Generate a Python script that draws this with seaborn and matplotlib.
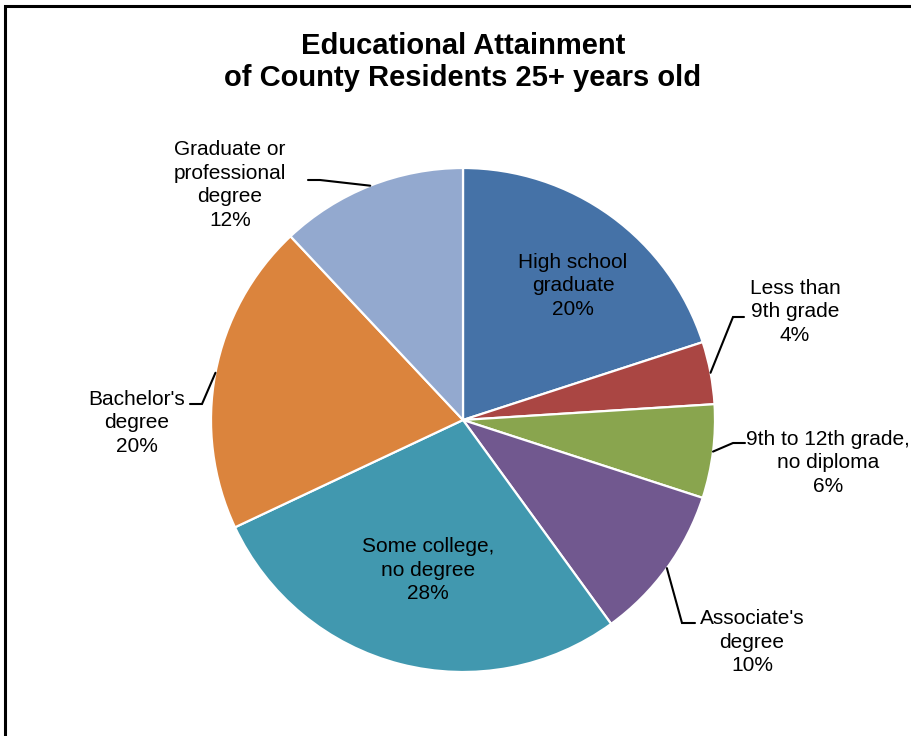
import numpy as np
import matplotlib
matplotlib.use("Agg")
import matplotlib.pyplot as plt
import seaborn as sns

# Educational attainment shares (percent), clockwise from 12 o'clock
categories = [
    "High school\ngraduate",
    "Less than\n9th grade",
    "9th to 12th grade,\nno diploma",
    "Associate's\ndegree",
    "Some college,\nno degree",
    "Bachelor's\ndegree",
    "Graduate or\nprofessional\ndegree",
]
shares = [20, 4, 6, 10, 28, 20, 12]
colors = ["#4572A7", "#AA4643", "#89A54E", "#71588F", "#4198AF", "#DB843D", "#93A9CF"]

sns.set_theme(style="white")
plt.rcParams["font.family"] = ["Liberation Sans", "DejaVu Sans"]

W, H = 912, 736
fig = plt.figure(figsize=(W / 100, H / 100), dpi=100)
ax = fig.add_axes([0, 0, 1, 1])

cx, cy, R = 463, H - 420, 252
palette = sns.color_palette(colors)
wedges, _ = ax.pie(
    shares, colors=palette, startangle=90, counterclock=False,
    center=(cx, cy), radius=R, frame=True,
    wedgeprops=dict(edgecolor="white", linewidth=1.6),
)
ax.set_xlim(0, W)
ax.set_ylim(0, H)
ax.set_aspect("equal")
ax.axis("off")

fs = 15
# label placement in pixels from top-left; outside labels get an elbow leader
layout = {
    0: dict(pos=(573, 286)),
    1: dict(pos=(795, 312), elbow=[(744, 317), (733, 317)]),
    2: dict(pos=(828, 463), elbow=[(745, 443), (733, 443)]),
    3: dict(pos=(752, 642), elbow=[(695, 623), (682, 623)]),
    4: dict(pos=(428, 570)),
    5: dict(pos=(137, 423), elbow=[(190, 404), (202, 404)]),
    6: dict(pos=(230, 185), elbow=[(308, 180), (320, 180)]),
}

for i, w in enumerate(wedges):
    lab = categories[i] + f"\n{shares[i]}%"
    spec = layout[i]
    tx, ty = spec["pos"]
    ax.text(tx, H - ty, lab, ha="center", va="center", fontsize=fs,
            linespacing=1.3, color="black")
    if "elbow" in spec:
        mid = np.deg2rad((w.theta1 + w.theta2) / 2)
        px, py = cx + R * np.cos(mid), cy + R * np.sin(mid)
        (ex, ey), (kx, ky) = spec["elbow"]
        ax.plot([ex, kx, px], [H - ey, H - ky, py], color="black", lw=1.5,
                solid_joinstyle="miter")

ax.text(463, H - 62, "Educational Attainment\nof County Residents 25+ years old",
        ha="center", va="center", fontsize=21, fontweight="bold",
        linespacing=1.17, color="black")

# chart frame
fig.patches.append(matplotlib.patches.Rectangle(
    (5.5 / W, -0.1), 1.2, (H - 5.5) / H + 0.1, transform=fig.transFigure,
    fill=False, edgecolor="black", linewidth=2.2))

fig.savefig("out.png", dpi=100, facecolor="white")
